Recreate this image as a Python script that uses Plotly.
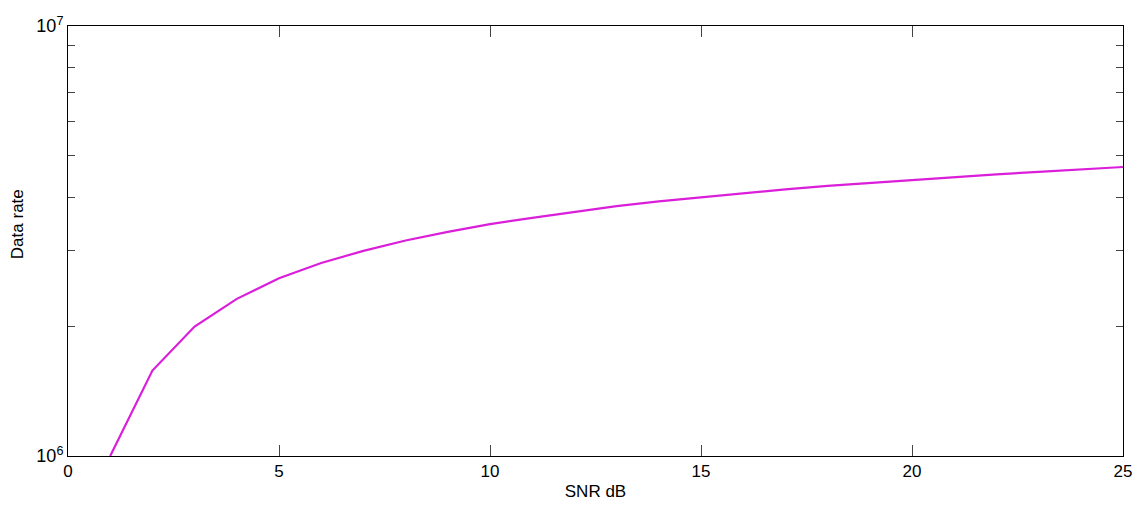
import plotly.graph_objects as go

# SNR values (dB) and achieved data rate (bit/s)
snr_db = list(range(1, 26))
data_rate = [
    1.00e6, 1.58e6, 2.00e6, 2.32e6, 2.59e6, 2.81e6, 3.00e6, 3.17e6, 3.32e6, 3.46e6,
    3.58e6, 3.70e6, 3.81e6, 3.91e6, 4.00e6, 4.09e6, 4.17e6, 4.25e6, 4.32e6, 4.39e6,
    4.46e6, 4.52e6, 4.58e6, 4.64e6, 4.70e6,
]

x_ticks = [0, 5, 10, 15, 20, 25]
y_ticks = [1e6, 1e7]
y_tick_text = ["10<sup>6</sup>", "10<sup>7</sup>"]
y_minor = [2e6, 3e6, 4e6, 5e6, 6e6, 7e6, 8e6, 9e6]

FONT = "Liberation Sans, Arial, sans-serif"

fig = go.Figure()
fig.add_trace(go.Scatter(
    x=snr_db, y=data_rate, mode="lines",
    line=dict(color="#DA1EDA", width=2.2),
    showlegend=False,
))

fig.update_layout(
    width=1144, height=509,
    margin=dict(l=68, r=19, t=26, b=51),
    paper_bgcolor="white", plot_bgcolor="white",
    font=dict(family=FONT, size=17, color="black"),
)

fig.update_xaxes(
    range=[0, 25], tickvals=x_ticks, ticks="inside", ticklen=11,
    tickcolor="#444", showline=True, linecolor="black", linewidth=1,
    mirror="allticks", showgrid=False, zeroline=False,
    tickfont=dict(size=17),
    title=dict(text="SNR dB", font=dict(size=17), standoff=4),
)

fig.update_yaxes(
    type="log", range=[6, 7], tickvals=y_ticks, ticktext=y_tick_text,
    ticks="inside", ticklen=7, tickcolor="#444",
    showline=True, linecolor="black", linewidth=1,
    mirror="allticks", showgrid=False, zeroline=False,
    tickfont=dict(size=18),
    minor=dict(tickvals=y_minor, ticks="inside", ticklen=7, tickcolor="#444", showgrid=False),
)

# y-axis title placed as a rotated annotation
fig.add_annotation(
    text="Data rate", textangle=-90, showarrow=False,
    xref="paper", yref="paper", x=-0.048, y=0.54,
    xanchor="center", yanchor="middle",
    font=dict(size=17, family=FONT),
)

fig.write_html("out.html")
